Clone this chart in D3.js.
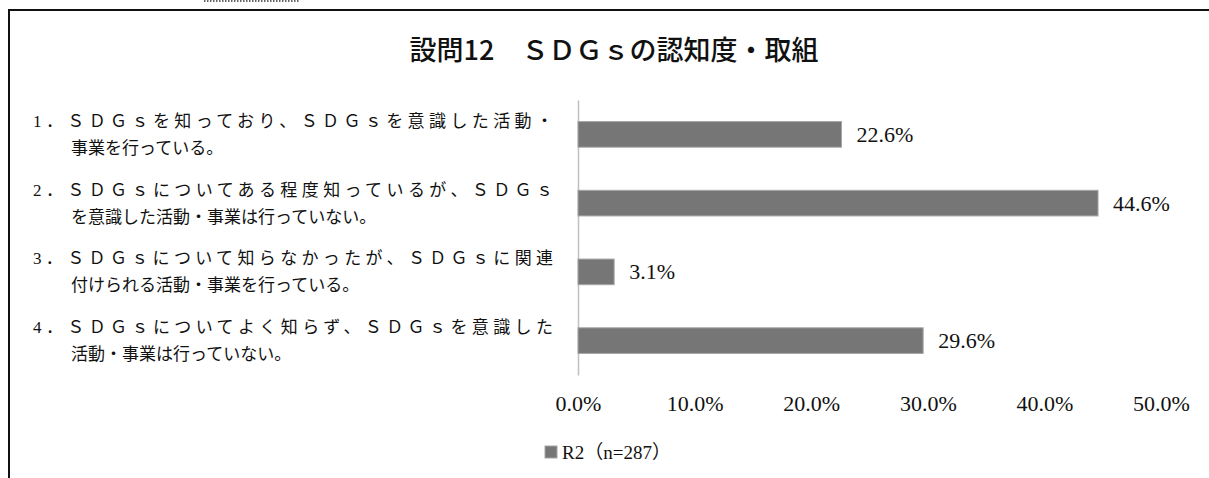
<!DOCTYPE html>
<html>
<head>
<meta charset="utf-8">
<script src="https://cdn.jsdelivr.net/npm/d3@7/dist/d3.min.js"></script>
<style>
  body { margin: 0; background: #fff; }
  svg { display: block; }
</style>
</head>
<body>
<div id="chart"></div>
<script>
// chart data
var title = '設問12　ＳＤＧｓの認知度・取組';
var categories = ['1', '2', '3', '4'];
var categoryLines = [
  ['1．ＳＤＧｓを知っており、ＳＤＧｓを意識した活動・', '事業を行っている。'],
  ['2．ＳＤＧｓについてある程度知っているが、ＳＤＧｓ', 'を意識した活動・事業は行っていない。'],
  ['3．ＳＤＧｓについて知らなかったが、ＳＤＧｓに関連', '付けられる活動・事業を行っている。'],
  ['4．ＳＤＧｓについてよく知らず、ＳＤＧｓを意識した', '活動・事業は行っていない。']
];
var values = [22.6, 44.6, 3.1, 29.6];
var xTicks = [0, 10, 20, 30, 40, 50];
var seriesName = 'R2（n=287）';

var width = 1209, height = 478;
var serif = '"Liberation Serif", "Noto Sans CJK JP", serif';
var gothic = '"Noto Sans CJK JP", sans-serif';

var svg = d3.select('#chart')
  .append('svg')
  .attr('width', width)
  .attr('height', height);

svg.append('rect')
  .attr('width', width)
  .attr('height', height)
  .attr('fill', '#fff');

// outer frame (runs off the right and bottom)
svg.append('path')
  .attr('d', 'M9,' + height + 'V10H' + width)
  .attr('fill', 'none')
  .attr('stroke', '#111')
  .attr('stroke-width', 2);

// dotted mark at the top edge
svg.append('line')
  .attr('x1', 204).attr('x2', 300)
  .attr('y1', 1).attr('y2', 1)
  .attr('stroke', '#333')
  .attr('stroke-width', 1.5)
  .attr('stroke-dasharray', '1.5,1.5');

// title
svg.append('text')
  .attr('x', 614)
  .attr('y', 48)
  .attr('text-anchor', 'middle')
  .attr('dominant-baseline', 'central')
  .style('font-family', gothic)
  .style('font-size', '27px')
  .style('font-weight', 500)
  .attr('fill', '#111')
  .text(title);

// scales
var x = d3.scaleLinear()
  .domain([0, 50])
  .range([578, 1161]);

var y = d3.scaleBand()
  .domain(categories)
  .range([100, 375])
  .paddingInner(0.627)
  .paddingOuter(0.3135);

// category axis (line only)
var yAxis = svg.append('g')
  .attr('transform', 'translate(' + x(0) + ',0)')
  .call(d3.axisLeft(y).tickSize(0).tickFormat(''));
yAxis.select('.domain')
  .attr('stroke', '#c0c0c0')
  .attr('stroke-width', 1.5);

// value axis (labels only)
var xAxis = svg.append('g')
  .attr('transform', 'translate(0,392)')
  .call(d3.axisBottom(x)
    .tickValues(xTicks)
    .tickSize(0)
    .tickFormat(function (d) { return d.toFixed(1) + '%'; }));
xAxis.select('.domain').remove();
xAxis.selectAll('text')
  .attr('y', 11)
  .attr('dy', 0)
  .attr('dominant-baseline', 'central')
  .attr('fill', '#111')
  .style('font-family', serif)
  .style('font-size', '22px');

// bars
svg.append('g')
  .selectAll('rect')
  .data(values)
  .enter()
  .append('rect')
  .attr('x', x(0))
  .attr('y', function (d, i) { return y(categories[i]); })
  .attr('width', function (d) { return x(d) - x(0); })
  .attr('height', y.bandwidth())
  .attr('fill', '#767676')
  .attr('stroke', '#a6a6a6')
  .attr('stroke-width', 1);

// value labels
svg.append('g')
  .selectAll('text')
  .data(values)
  .enter()
  .append('text')
  .attr('x', function (d) { return x(d) + 15; })
  .attr('y', function (d, i) { return y(categories[i]) + y.bandwidth() / 2; })
  .attr('dominant-baseline', 'central')
  .attr('fill', '#111')
  .style('font-family', serif)
  .style('font-size', '22px')
  .text(function (d) { return d.toFixed(1) + '%'; });

// category labels, first line spread to the full width
var labels = svg.append('g')
  .selectAll('g')
  .data(categoryLines)
  .enter()
  .append('g')
  .attr('transform', function (d, i) {
    return 'translate(0,' + (y(categories[i]) + y.bandwidth() / 2) + ')';
  })
  .style('font-family', serif)
  .style('font-size', '17px')
  .attr('fill', '#111');

labels.append('text')
  .attr('x', 33)
  .attr('y', -13)
  .attr('dominant-baseline', 'central')
  .attr('textLength', 520)
  .attr('lengthAdjust', 'spacing')
  .text(function (d) { return d[0]; });

labels.append('text')
  .attr('x', 71)
  .attr('y', 14)
  .attr('dominant-baseline', 'central')
  .text(function (d) { return d[1]; });

// legend
var legend = svg.append('g')
  .attr('transform', 'translate(545,452)');

legend.append('rect')
  .attr('x', 0)
  .attr('y', -6)
  .attr('width', 12)
  .attr('height', 12)
  .attr('fill', '#767676')
  .attr('stroke', '#a6a6a6');

legend.append('text')
  .attr('x', 17)
  .attr('y', 0)
  .attr('dominant-baseline', 'central')
  .attr('fill', '#111')
  .style('font-family', serif)
  .style('font-size', '19px')
  .text(seriesName);
</script>
</body>
</html>
